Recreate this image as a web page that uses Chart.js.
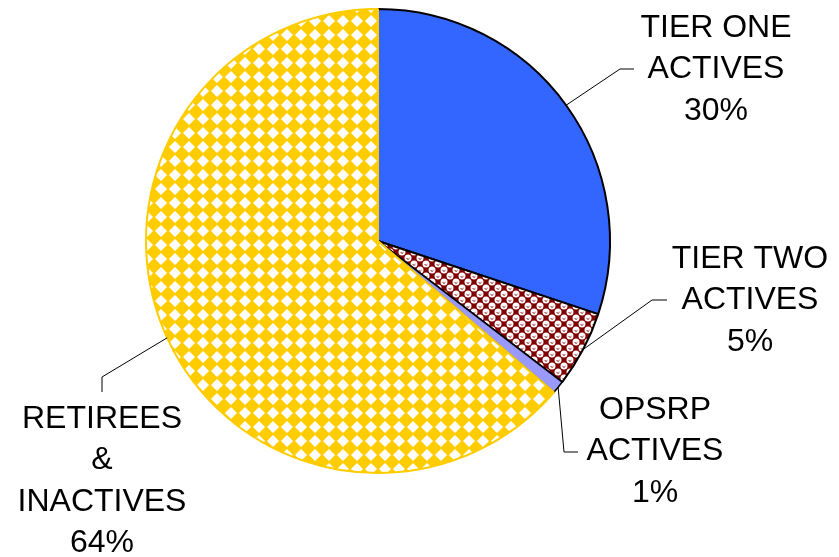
<!DOCTYPE html>
<html>
<head>
<meta charset="utf-8">
<script src="https://cdn.jsdelivr.net/npm/chart.js@4/dist/chart.umd.min.js"></script>
<style>
  body { margin: 0; background: #fff; }
  #wrap { width: 839px; height: 557px; }
</style>
</head>
<body>
<div id="wrap"><canvas id="myChart" width="839" height="557"></canvas></div>
<script>
// chart data
const categories = ['TIER ONE\nACTIVES', 'TIER TWO\nACTIVES', 'OPSRP\nACTIVES', 'RETIREES\n&\nINACTIVES'];
const shares = [30.1, 5.3, 0.9, 63.7];

// where each label sits (bend of leader, end of leader, text centre x, first line y)
const labelLayout = [
  { bend: [620, 69], end: [634, 69], tx: 716, ty: 28 },
  { bend: [652, 300], end: [667, 300], tx: 750, ty: 259 },
  { bend: [564, 452], end: [578, 452], tx: 655, ty: 410 },
  { bend: [102, 377], end: [102, 392], tx: 102, ty: 419 },
];

const makeTile = (size, draw) => {
  const c = document.createElement('canvas');
  c.width = size; c.height = size;
  const g = c.getContext('2d');
  draw(g, size);
  return g.createPattern(c, 'repeat');
};

// yellow with white diamonds (rotated checker)
const yellowPattern = makeTile(14, (g, s) => {
  g.fillStyle = '#FFCC00';
  g.fillRect(0, 0, s, s);
  g.fillStyle = '#FFFFFF';
  const h = 6;
  const c = s / 2;
  g.beginPath();
  g.moveTo(c, c - h); g.lineTo(c + h, c); g.lineTo(c, c + h); g.lineTo(c - h, c);
  g.closePath(); g.fill();
});

// dark red with white bubbles
const redPattern = makeTile(12, (g, s) => {
  g.fillStyle = '#800000';
  g.fillRect(0, 0, s, s);
  g.fillStyle = '#FFFFFF';
  const bubble = (x, y) => {
    g.beginPath(); g.arc(x, y, 3.5, 0, Math.PI * 2); g.fill();
  };
  bubble(6, 0); bubble(6, s); bubble(0, 6); bubble(s, 6);
  g.strokeStyle = '#800000';
  g.lineWidth = 1;
  [[6, 0], [6, s], [0, 6], [s, 6]].forEach(([x, y]) => {
    g.beginPath(); g.arc(x, y - 0.5, 1.6, 0.15 * Math.PI, 0.85 * Math.PI); g.stroke();
  });
});

const labelPlugin = {
  id: 'sliceLabels',
  afterDraw(chart) {
    const ctx = chart.ctx;
    const meta = chart.getDatasetMeta(0);
    const total = shares.reduce((a, b) => a + b, 0);
    ctx.save();
    meta.data.forEach((arc, i) => {
      const p = arc.getProps(['x', 'y', 'startAngle', 'endAngle', 'outerRadius'], true);
      const mid = (p.startAngle + p.endAngle) / 2;
      const ax = p.x + Math.cos(mid) * p.outerRadius;
      const ay = p.y + Math.sin(mid) * p.outerRadius;
      const L = labelLayout[i];
      ctx.strokeStyle = '#000';
      ctx.lineWidth = 1;
      ctx.beginPath();
      ctx.moveTo(ax, ay);
      ctx.lineTo(L.bend[0], L.bend[1]);
      ctx.lineTo(L.end[0], L.end[1]);
      ctx.stroke();

      const lines = categories[i].split('\n');
      lines.push(Math.round(shares[i] / total * 100) + '%');
      ctx.fillStyle = '#000';
      ctx.font = '32px "Liberation Sans", Arial, sans-serif';
      ctx.textAlign = 'center';
      ctx.textBaseline = 'middle';
      lines.forEach((t, k) => ctx.fillText(t, L.tx, L.ty + k * 41.5));
    });
    ctx.restore();
  },
};

const ctx = document.getElementById('myChart').getContext('2d');
const myChart = new Chart(ctx, {
  type: 'pie',
  data: {
    labels: categories,
    datasets: [
      {
        data: shares,
        backgroundColor: ['#3366FF', redPattern, '#9999FF', yellowPattern],
        borderColor: ['#000000', '#000000', '#000000', '#FFCC00'],
        borderWidth: [2, 2, 1.5, 2],
      },
    ],
  },
  options: {
    responsive: false,
    animation: false,
    layout: { padding: { left: 145, right: 228, top: 8, bottom: 83 } },
    plugins: {
      legend: { display: false },
      tooltip: { enabled: false },
    },
  },
  plugins: [labelPlugin],
});
</script>
</body>
</html>
